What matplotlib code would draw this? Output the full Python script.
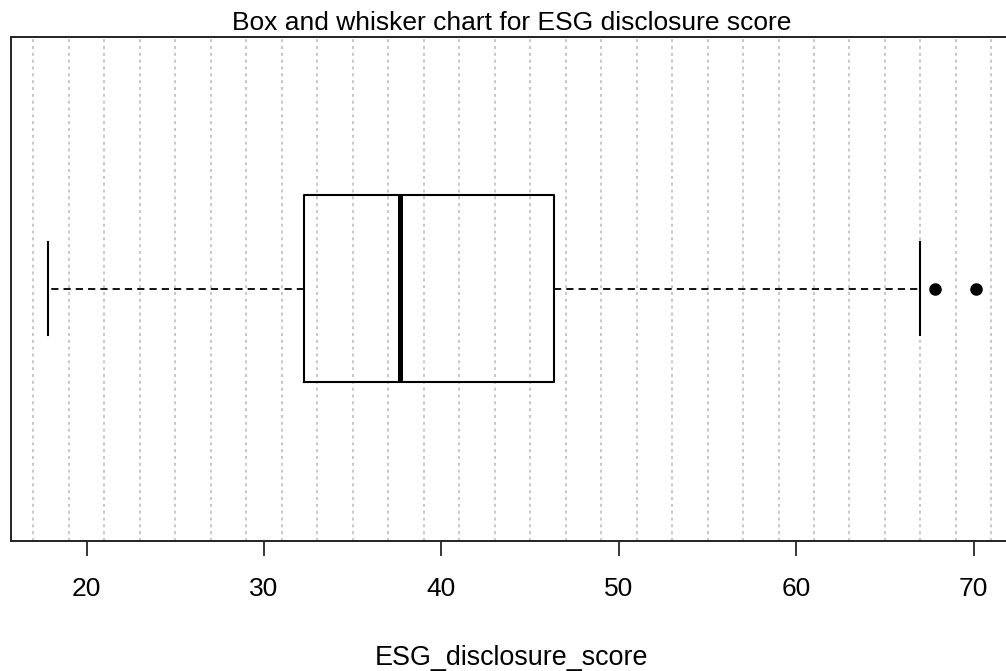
import matplotlib
matplotlib.use("Agg")
import matplotlib.pyplot as plt

# Summary statistics for ESG disclosure score
whisker_low = 17.8
q1 = 32.25
median = 37.64
q3 = 46.34
whisker_high = 66.96
outliers = [67.82, 70.11]

tick_values = [20, 30, 40, 50, 60, 70]
grid_values = list(range(17, 72, 2))

plt.rcParams["font.family"] = ["Liberation Sans", "DejaVu Sans"]

fig = plt.figure(figsize=(10.06, 6.71), dpi=100)
ax = fig.add_axes([10.6 / 1006, 130.5 / 671, 1001.9 / 1006, 504 / 671])

# dotted vertical reference lines
for g in grid_values:
    ax.axvline(g, color="#bdbdbd", lw=1.2, linestyle=(0, (1.8, 2.3)), zorder=0)

stats = [{
    "whislo": whisker_low,
    "q1": q1,
    "med": median,
    "q3": q3,
    "whishi": whisker_high,
    "fliers": outliers,
    "label": "",
}]

ax.bxp(
    stats,
    positions=[1],
    widths=0.4,
    capwidths=0.2,
    orientation="horizontal",
    showfliers=True,
    boxprops=dict(color="black", linewidth=1.5),
    medianprops=dict(color="black", linewidth=3.6, solid_capstyle="butt"),
    whiskerprops=dict(color="black", linewidth=1.3, linestyle=(0, (4.0, 2.8))),
    capprops=dict(color="black", linewidth=1.5),
    flierprops=dict(marker="o", markerfacecolor="black", markeredgecolor="black",
                    markersize=8, linestyle="none"),
)

ax.set_xlim(15.71, 72.19)
ax.set_ylim(0.46, 1.54)

ax.set_yticks([])
ax.set_xticks(tick_values)
ax.set_xticklabels([str(t) for t in tick_values])
ax.tick_params(axis="x", direction="out", length=10.5, width=1.1, pad=15.5,
               labelsize=19, colors="black")

for s in ax.spines.values():
    s.set_linewidth(1.4)
    s.set_color("#222222")

ax.set_xlabel("ESG_disclosure_score", fontsize=19.4, labelpad=32)
ax.set_title("Box and whisker chart for ESG disclosure score", fontsize=19, pad=4.5)

fig.savefig("out.png", dpi=100)
